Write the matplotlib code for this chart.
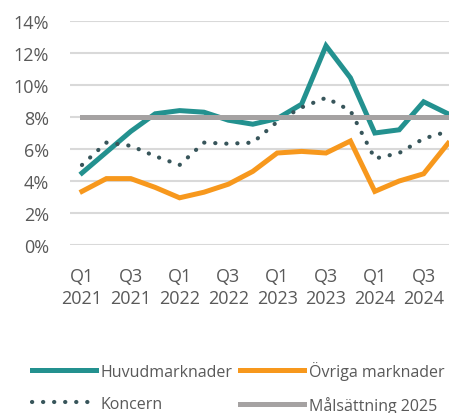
import numpy as np
import matplotlib.pyplot as plt
from matplotlib.ticker import FuncFormatter

plt.rcParams['font.family'] = ['Open Sans', 'DejaVu Sans']

quarters = ['Q1\n2021', 'Q2\n2021', 'Q3\n2021', 'Q4\n2021',
            'Q1\n2022', 'Q2\n2022', 'Q3\n2022', 'Q4\n2022',
            'Q1\n2023', 'Q2\n2023', 'Q3\n2023', 'Q4\n2023',
            'Q1\n2024', 'Q2\n2024', 'Q3\n2024', 'Q4\n2024']
huvudmarknader = [4.5, 5.8, 7.1, 8.2, 8.4, 8.3, 7.8, 7.55, 7.9, 8.8, 12.45, 10.45, 7.0, 7.2, 8.95, 8.2]
ovriga = [3.35, 4.15, 4.15, 3.6, 2.95, 3.3, 3.8, 4.6, 5.75, 5.85, 5.75, 6.5, 3.35, 4.0, 4.45, 6.35]
koncern = [5.0, 6.4, 6.2, 5.55, 5.0, 6.4, 6.33, 6.4, 7.7, 8.6, 9.2, 8.4, 5.4, 5.75, 6.65, 7.1]
malsattning = [8.0] * 16
y_ticks = [0, 2, 4, 6, 8, 10, 12, 14]

TEXT = '#595959'


def main():
    fig = plt.figure(figsize=(4.49, 4.14), dpi=100)
    ax = fig.add_axes([70 / 449, 1 - 246 / 414, 379 / 449, 224 / 414])
    x = np.arange(len(quarters))

    h1, = ax.plot(x, huvudmarknader, color='#23918F', lw=3.6, solid_joinstyle='miter',
                  label='Huvudmarknader', zorder=3)
    h2, = ax.plot(x, ovriga, color='#F7981D', lw=3.6, solid_joinstyle='miter',
                  label='Övriga marknader', zorder=3)
    h3, = ax.plot(x, koncern, color='#37555A', lw=3.0, linestyle=(0, (0.05, 2.6)),
                  dash_capstyle='round', label='Koncern', zorder=4)
    h4, = ax.plot(x, malsattning, color='#A5A2A2', lw=3.6, label='Målsättning 2025', zorder=5)

    ax.set_xlim(-0.49, 15.04)
    ax.set_ylim(0, 14)
    ax.set_yticks(y_ticks)
    ax.yaxis.set_major_formatter(FuncFormatter(lambda v, p: '%d%%' % v))
    ax.set_xticks(x[::2])
    ax.set_xticklabels(quarters[::2], linespacing=1.25)
    ax.grid(axis='y', color='#D9D9D9', lw=1.5)
    ax.set_axisbelow(True)
    for spine in ax.spines.values():
        spine.set_visible(False)
    ax.tick_params(axis='both', length=0, labelsize=13, colors=TEXT)
    ax.tick_params(axis='y', pad=15)
    ax.tick_params(axis='x', pad=16)

    # column-major fill, so order gives rows: Huvud/Övriga, Koncern/Målsättning
    handles = [h1, h3, h2, h4]
    fig.legend(handles, [h.get_label() for h in handles],
               loc='upper left', bbox_to_anchor=(32 / 449, 1 - 362 / 414), ncol=2,
               frameon=False, fontsize=11.5, handlelength=4.0, handletextpad=0.3,
               columnspacing=0.45, labelspacing=1.0, borderpad=0, borderaxespad=0,
               labelcolor=TEXT)

    fig.savefig('out.png', dpi=100)


if __name__ == '__main__':
    main()
